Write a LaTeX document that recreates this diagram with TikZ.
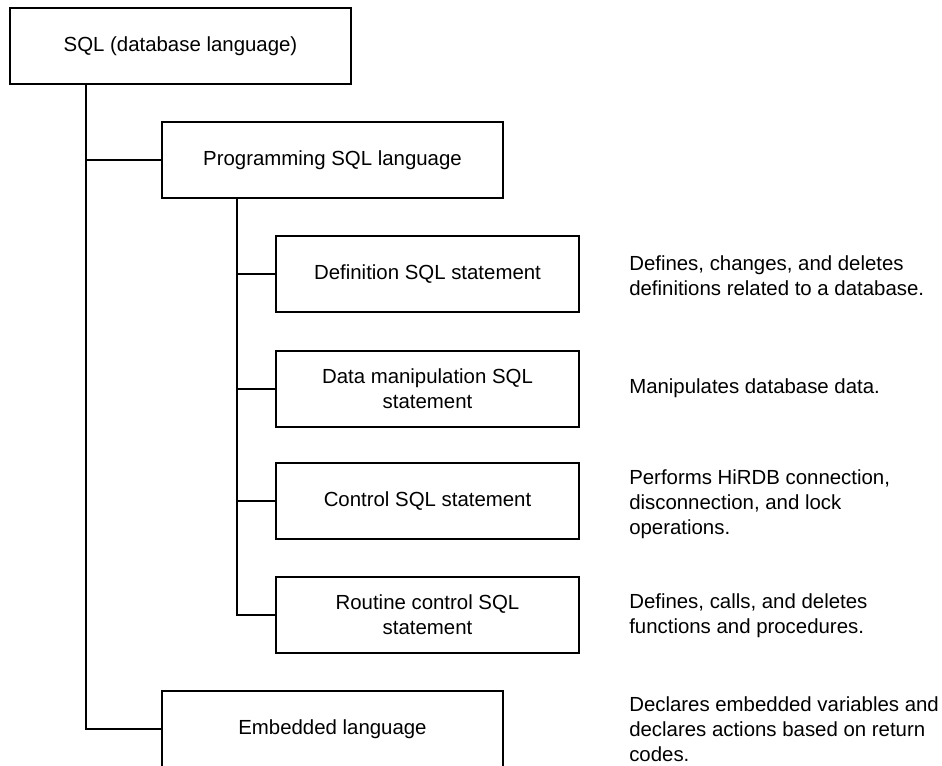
\documentclass[tikz,border=0pt]{standalone}
\usepackage{fontspec}
\setmainfont{Liberation Sans}
\usetikzlibrary{calc}
\begin{document}
\begin{tikzpicture}[x=0.75pt,y=-0.75pt,
  lw/.style={line width=1.5pt},
  txt/.style={font=\fontsize{15.3pt}{18.75pt}\selectfont},
  box/.style={draw,lw,rectangle,inner sep=0pt,align=center,txt},
  wide/.style={box,minimum width=341*0.75pt,minimum height=76*0.75pt},
  narrow/.style={box,minimum width=303*0.75pt,minimum height=76*0.75pt},
  desc/.style={anchor=west,inner sep=0pt,align=left,txt},
  link/.style={lw}]
\useasboundingbox (0,0) rectangle (942,765);
\clip (0,0) rectangle (942,765);

% hierarchy boxes
\node[wide]   (sql)  at (180.5,46)  {SQL (database language)};
\node[wide]   (prog) at (332.5,160) {Programming SQL language};
\node[narrow] (def)  at (427.5,274) {Definition SQL statement};
\node[narrow] (dml)  at (427.5,388.5) {Data manipulation SQL\\statement};
\node[narrow] (ctl)  at (427.5,501) {Control SQL statement};
\node[narrow] (rtn)  at (427.5,615) {Routine control SQL\\statement};
\node[wide]   (emb)  at (332.5,729) {Embedded language};

% trunk lines
\coordinate (t1) at ($(sql.south west)+(77,0)$);
\coordinate (t2) at ($(prog.south west)+(76,0)$);
\draw[link] (t1) |- (emb.west);
\draw[link] (t1 |- prog.west) -- (prog.west);
\draw[link] (t2) |- (rtn.west);
\draw[link] (t2 |- def.west) -- (def.west);
\draw[link] (t2 |- dml.west) -- (dml.west);
\draw[link] (t2 |- ctl.west) -- (ctl.west);

% descriptions
\node[desc] (ddef) at (629,276) {Defines, changes, and deletes\\definitions related to a database.};
\node[desc] (ddml) at (629,388) {Manipulates database data.};
\node[desc] (dctl) at (629,504) {Performs HiRDB connection,\\disconnection, and lock\\operations.};
\node[desc] (drtn) at (629,616) {Defines, calls, and deletes\\functions and procedures.};
\node[desc] (demb) at (629,729) {Declares embedded variables and\\declares actions based on return\\codes.};
\end{tikzpicture}
\end{document}
